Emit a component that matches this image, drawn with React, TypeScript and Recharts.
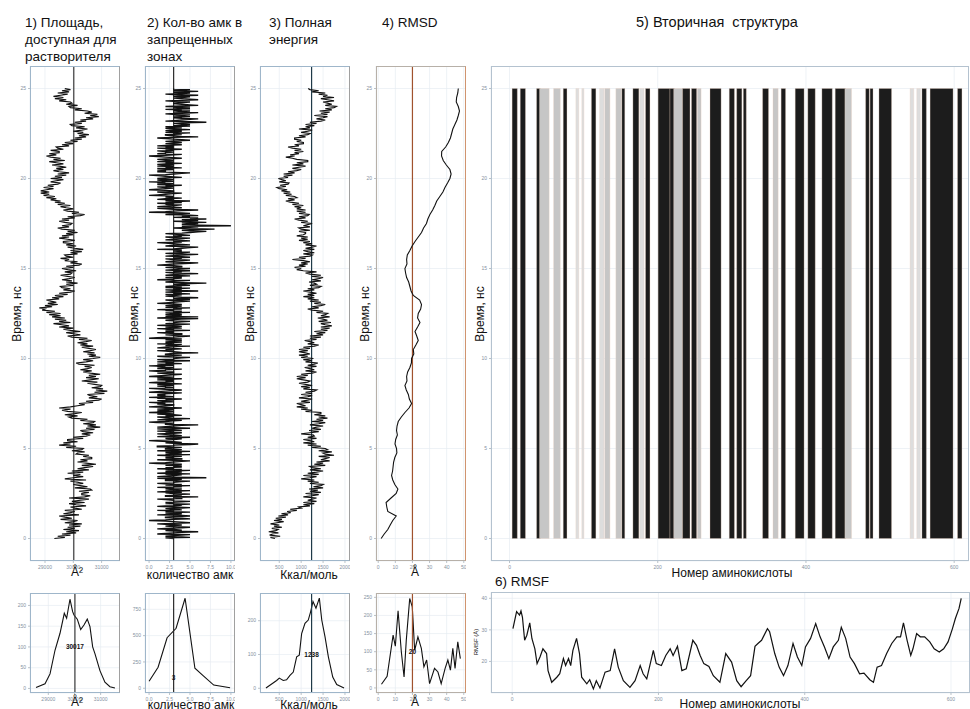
import React from 'react';
import {
  ScatterChart,
  Scatter,
  LineChart,
  Line,
  XAxis,
  YAxis,
  CartesianGrid,
  ReferenceLine,
  ReferenceArea,
  ReferenceDot,
} from 'recharts';

// #region data
// time step of the trajectories, ns
const sasaStep = 0.0625;
const sasa = [
  29330, 29700, 29450, 29900, 29600, 30100, 29750, 30200, 29650, 30050, 29800, 30250, 29850, 30300, 29700, 30000,
  30150, 29550, 29950, 29700, 29500, 30200, 29650, 29900, 30050, 29700, 30300, 30050, 29900, 30450, 30100, 29850,
  30400, 29950, 30250, 30550, 29850, 30400, 30600, 30300, 30300, 30550, 30200, 30650, 30600, 30050, 30500, 30250,
  30000, 30350, 30150, 29900, 30450, 29700, 30000, 30350, 30000, 30250, 29800, 30350, 29950, 30550, 30150, 30400,
  30700, 30300, 30800, 30450, 30150, 30500, 30250, 30650, 30650, 30350, 30550, 30100, 30150, 30400, 29950, 30300,
  30350, 29750, 30100, 29500, 29900, 29650, 30150, 29800, 29800, 30350, 30000, 30450, 30600, 30300, 30700, 30350,
  30250, 30750, 30450, 30950, 30500, 30800, 30350, 30700, 30750, 30250, 30500, 29950, 29850, 30150, 29700, 30050,
  30300, 29800, 29600, 29900, 29500, 29900, 30150, 30400, 30200, 30700, 30450, 30900, 31000, 30550, 30850, 30600,
  30500, 31100, 30750, 31200, 30800, 31050, 30650, 30950, 31000, 30750, 30500, 30850, 30300, 30600, 30900, 30450,
  30800, 30550, 30950, 30600, 30350, 30650, 30250, 30500, 30650, 30400, 30750, 30200, 30100, 30450, 30700, 30350,
  30700, 30950, 30550, 30800, 30500, 30750, 30350, 30600, 30800, 30550, 30300, 30700, 30250, 30500, 30150, 30450,
  30650, 30200, 30500, 29950, 29800, 30250, 30000, 29750, 30250, 29900, 29650, 30000, 29500, 29850, 29600, 29300,
  29900, 29500, 29750, 29350, 29700, 29250, 29550, 29150, 29550, 29050, 29350, 28900, 29000, 28800, 29250, 29000,
  29450, 29100, 29400, 29200, 29050, 29500, 29250, 29650, 29350, 29800, 29500, 29900, 30050, 29650, 29900, 29600,
  29550, 30000, 29750, 30150, 29750, 29950, 29600, 29850, 30050, 29800, 29550, 29900, 29950, 29700, 30100, 29800,
  29600, 30000, 29750, 30200, 30300, 29900, 30150, 29700, 29850, 29550, 30000, 29750, 29700, 30150, 29900, 30300,
  29900, 30350, 30050, 29800, 30100, 29750, 30000, 29650, 29650, 30050, 29800, 29500, 29850, 29600, 30000, 29750,
  30150, 29800, 30050, 29600, 29450, 29850, 29600, 29900, 29950, 29700, 29500, 29850, 29600, 30050, 29800, 30250,
  30400, 29950, 30200, 29800, 29650, 30000, 29750, 29550, 29900, 29450, 29700, 29350, 29550, 29200, 29400, 29050,
  29350, 28950, 29150, 28850, 29150, 28850, 29050, 29300, 28950, 29300, 29100, 29450, 29550, 29200, 29400, 29650,
  29200, 29600, 29350, 29750, 29450, 29850, 29500, 29300, 29650, 29400, 29750, 29500, 29250, 29650, 29400, 29150,
  29700, 29300, 29550, 29200, 29050, 29400, 29150, 29500, 29500, 29200, 29650, 29450, 29400, 29850, 29600, 30000,
  29700, 30150, 29900, 30300, 30050, 30450, 30200, 30550, 30150, 30350, 30000, 30300, 30500, 30100, 30400, 29950,
  29900, 30300, 30050, 30450, 30250, 30700, 30450, 30900, 30600, 30850, 30400, 30650, 30500, 30050, 30300, 29900,
  29850, 30150, 29750, 29950, 29900, 29500, 29750, 29350, 29650, 29300, 29550, 29800, 29450, 29850, 29600, 29900,
  29700,
];

const amkStep = 0.03125;
const amk = [
  3, 2, 5, 4, 2, 3, 4, 5, 1, 2, 3, 4, 6, 3, 2, 4, 3, 1, 2, 4, 5, 3, 2, 3, 4, 2, 1, 3, 5, 4, 3, 2,
  0, 2, 3, 5, 4, 2, 2, 3, 5, 4, 1, 3, 4, 2, 3, 5, 2, 3, 1, 4, 3, 2, 4, 5, 3, 1, 2, 4, 3, 5, 2, 3,
  2, 4, 5, 3, 3, 2, 1, 4, 4, 3, 6, 2, 2, 4, 3, 5, 3, 2, 4, 1, 3, 5, 2, 3, 4, 2, 3, 1, 4, 3, 5, 2,
  4, 2, 1, 3, 3, 4, 5, 2, 2, 4, 3, 1, 7, 3, 1, 2, 3, 4, 2, 5, 1, 3, 4, 2, 3, 5, 2, 4, 1, 3, 2, 4,
  3, 4, 2, 3, 4, 1, 0, 2, 3, 4, 5, 3, 1, 4, 4, 2, 3, 2, 4, 3, 1, 5, 2, 3, 4, 2, 3, 5, 1, 3, 4, 2,
  2, 3, 4, 1, 1, 3, 3, 5, 6, 3, 2, 4, 3, 1, 0, 2, 3, 4, 2, 3, 5, 1, 2, 4, 3, 2, 1, 3, 4, 2, 3, 1,
  4, 3, 2, 1, 5, 3, 1, 2, 3, 4, 6, 2, 2, 3, 1, 0, 2, 3, 4, 1, 2, 5, 3, 2, 1, 3, 2, 4, 3, 1, 2, 3,
  0, 2, 3, 1, 2, 3, 1, 2, 4, 2, 0, 1, 2, 3, 3, 1, 2, 1, 0, 3, 2, 1, 3, 2, 4, 1, 2, 0, 3, 2, 1, 2,
  1, 2, 3, 4, 0, 1, 2, 3, 4, 2, 1, 0, 3, 2, 2, 1, 3, 2, 1, 4, 2, 0, 1, 3, 2, 3, 1, 2, 4, 1, 2, 3,
  0, 1, 2, 3, 4, 2, 1, 3, 3, 1, 0, 2, 2, 4, 1, 2, 3, 1, 2, 0, 3, 2, 1, 4, 2, 3, 1, 2, 5, 2, 1, 3,
  3, 4, 5, 2, 1, 3, 4, 2, 2, 3, 6, 4, 3, 2, 1, 3, 2, 4, 3, 1, 2, 3, 5, 2, 3, 4, 1, 3, 2, 4, 3, 2,
  4, 3, 2, 4, 0, 1, 3, 4, 5, 3, 2, 4, 4, 2, 1, 3, 2, 3, 5, 2, 3, 1, 4, 3, 2, 4, 3, 1, 3, 5, 2, 3,
  3, 4, 5, 3, 2, 3, 4, 6, 1, 3, 6, 2, 3, 4, 2, 4, 3, 2, 5, 3, 4, 2, 3, 1, 4, 3, 5, 2, 3, 4, 2, 3,
  4, 3, 1, 2, 3, 4, 5, 3, 2, 5, 4, 3, 6, 4, 3, 2, 3, 4, 2, 5, 3, 4, 2, 3, 6, 3, 2, 4, 3, 5, 2, 4,
  2, 3, 5, 4, 3, 5, 7, 4, 2, 3, 4, 5, 1, 3, 3, 4, 2, 4, 3, 5, 2, 3, 4, 6, 3, 2, 4, 3, 5, 2, 3, 4,
  5, 3, 2, 4, 4, 3, 1, 2, 3, 5, 6, 4, 2, 3, 4, 5, 3, 2, 4, 3, 5, 4, 2, 3, 4, 6, 3, 2, 4, 5, 3, 4,
  3, 4, 1, 3, 4, 5, 6, 4, 2, 3, 5, 4, 3, 2, 1, 4, 3, 5, 4, 2, 3, 4, 5, 3, 2, 4, 3, 5, 4, 3, 2, 4,
  5, 6, 7, 5, 4, 6, 8, 5, 3, 5, 6, 4, 10, 6, 4, 5, 6, 4, 7, 5, 3, 6, 5, 4, 7, 5, 6, 3, 5, 4, 6, 5,
  2, 3, 5, 4, 0, 2, 3, 4, 6, 3, 2, 1, 4, 3, 1, 2, 3, 4, 2, 3, 1, 4, 2, 3, 5, 2, 3, 1, 2, 4, 3, 2,
  3, 2, 0, 1, 2, 3, 4, 2, 1, 3, 3, 2, 0, 1, 2, 3, 2, 1, 3, 2, 4, 1, 2, 3, 1, 2, 0, 3, 2, 1, 3, 2,
  1, 2, 4, 3, 2, 1, 0, 2, 3, 4, 5, 3, 1, 2, 2, 1, 3, 2, 1, 4, 2, 3, 1, 2, 3, 1, 2, 4, 2, 3, 1, 2,
  3, 2, 1, 2, 4, 3, 2, 1, 0, 2, 3, 4, 1, 2, 2, 3, 2, 1, 3, 2, 4, 2, 1, 3, 2, 3, 1, 2, 4, 3, 2, 3,
  4, 3, 2, 3, 5, 4, 3, 2, 1, 3, 6, 4, 3, 2, 2, 4, 3, 5, 2, 3, 4, 2, 3, 5, 3, 2, 4, 3, 2, 5, 3, 4,
  5, 4, 3, 4, 7, 5, 2, 3, 4, 5, 6, 4, 3, 4, 5, 3, 4, 5, 3, 2, 4, 6, 3, 4, 5, 3, 4, 2, 5, 4, 3, 5,
  2, 4, 6, 5, 4, 3, 3, 4, 5, 3, 2, 4, 6, 5, 4, 3, 4, 5, 3, 4, 6, 3, 2, 4, 5, 3, 4, 6, 3, 4, 5, 3,
  3,
];

const energyStep = 0.0625;
const energy = [
  400, 300, 520, 280, 350, 480, 260, 420, 470, 330, 560, 380, 500, 300, 450, 600,
  380, 560, 420, 650, 480, 700, 550, 760, 680, 900, 750, 1000, 950, 1200, 1050, 1300,
  1050, 1350, 1150, 1250, 1350, 1050, 1250, 1400, 1100, 1450, 1200, 1380, 1180, 1500, 1280, 1450,
  1500, 1200, 1400, 1150, 1300, 1000, 1200, 1350, 1050, 1400, 1150, 1350, 1500, 1200, 1450, 1250,
  1200, 1550, 1300, 1500, 1350, 1650, 1450, 1550, 1650, 1400, 1750, 1550, 1500, 1700, 1400, 1600,
  1550, 1250, 1450, 1150, 1350, 1050, 1300, 1200, 1050, 1350, 1150, 1300, 1280, 1000, 1200, 1400,
  1180, 1450, 1250, 1350, 1500, 1200, 1400, 1550, 1250, 1500, 1350, 1600, 1400, 1550, 1300, 1450,
  1450, 1100, 1250, 1000, 1150, 900, 1100, 1000, 900, 1200, 1000, 1150, 1250, 950, 1150, 1250,
  1000, 1250, 1100, 1300, 1350, 1050, 1200, 1000, 1250, 1100, 950, 1150, 1200, 1050, 900, 1100,
  900, 1150, 1000, 1250, 1350, 1100, 1300, 1200, 1080, 1350, 1150, 1300, 1380, 1100, 1250, 1050,
  1280, 1000, 1150, 950, 1200, 1100, 950, 1150, 950, 1200, 1050, 1300, 1400, 1150, 1300, 1200,
  1080, 1350, 1200, 1450, 1200, 1500, 1350, 1550, 1300, 1600, 1450, 1650, 1450, 1700, 1550, 1450,
  1680, 1400, 1600, 1500, 1380, 1650, 1450, 1550, 1600, 1350, 1500, 1250, 1150, 1400, 1250, 1450,
  1550, 1300, 1450, 1200, 1400, 1150, 1300, 1050, 1300, 1150, 1350, 1200, 1050, 1300, 1150, 1400,
  1450, 1200, 1350, 1300, 1180, 1450, 1250, 1400, 1500, 1250, 1450, 1200, 1100, 1350, 1050, 900,
  1000, 850, 1100, 950, 1150, 1000, 1200, 1050, 800, 1100, 950, 1200, 1250, 1050, 1300, 1150,
  1050, 1300, 1100, 1250, 1350, 1100, 1250, 1050, 1200, 950, 1150, 1000, 1150, 900, 1050, 1100,
  1100, 950, 1200, 1000, 950, 1200, 1050, 1150, 1250, 1000, 1150, 950, 850, 1100, 950, 1150,
  1180, 950, 1100, 900, 1100, 900, 1000, 850, 1050, 800, 950, 750, 650, 850, 700, 900,
  850, 650, 780, 600, 750, 550, 680, 500, 450, 650, 520, 700, 720, 500, 650, 560,
  480, 700, 600, 800, 600, 850, 700, 900, 1000, 800, 950, 1100, 800, 1050, 900, 1150,
  1150, 900, 800, 650, 850, 750, 950, 850, 1050, 850, 1000, 800, 700, 950, 850, 1050,
  1050, 900, 1000, 850, 850, 1100, 950, 1150, 1200, 1000, 1150, 1250, 950, 1200, 1100, 1300,
  1100, 1350, 1200, 1450, 1550, 1350, 1500, 1600, 1300, 1600, 1450, 1650, 1420, 1700, 1550, 1750,
  1800, 1550, 1700, 1600, 1500, 1750, 1600, 1450, 1750, 1500, 1600, 1400, 1550, 1250, 1400, 1200,
  1160,
];

const rmsdStep = 0.25;
const rmsd = [
  1.7, 3.5, 5.6, 7.0, 8.5, 10.5, 5.6, 5.0, 4.6, 7.5,
  10.5, 11.5, 9.7, 8.5, 7.8, 8.4, 8.7, 9.0, 9.7, 10.9,
  10.7, 9.8, 10.2, 11.2, 10.7, 11.0, 11.7, 13.5, 15.6, 18.0,
  19.5, 18.2, 17.6, 16.4, 15.6, 16.8, 16.6, 17.2, 18.5, 19.4,
  19.5, 20.8, 20.5, 22.0, 23.4, 22.5, 21.5, 23.0, 24.4, 23.0,
  23.4, 24.8, 25.3, 24.2, 20.5, 19.2, 18.5, 17.8, 16.6, 16.0,
  15.6, 16.8, 16.6, 17.0, 18.5, 19.8, 21.5, 23.4, 25.3, 26.5,
  28.2, 29.0, 30.2, 31.8, 33.1, 34.2, 36.0, 37.8, 39.0, 40.5,
  41.9, 42.6, 41.9, 39.8, 38.0, 37.0, 37.1, 39.4, 41.0, 42.2,
  42.9, 43.6, 44.8, 46.0, 46.8, 47.5, 46.8, 45.6, 45.8, 46.5,
  46.8,
];

const means = [30017, 3, 1238, 20];

// frequency polygons
const h1X = [28530, 28874, 29065, 29256, 29447, 29611, 29700, 29828, 29930, 29981, 30107, 30237, 30363, 30489, 30592, 30695, 30782, 30973, 31164, 31355, 31546];
const h1Y = [2, 11, 35, 92, 133, 181, 169, 215, 185, 177, 167, 142, 153, 167, 149, 100, 84, 43, 15, 4, 1];
const h2X = [0, 1.1, 2.2, 3.3, 4.4, 5.6, 6.6, 7.9, 9.9];
const h2Y = [67, 200, 480, 570, 855, 190, 120, 30, 5];
const h3X = [196, 440, 500, 591, 667, 744, 820, 897, 957, 1011, 1087, 1162, 1217, 1270, 1338, 1415, 1470, 1545, 1621, 1721, 1812, 1979];
const h3Y = [1, 23, 30, 23, 25, 38, 48, 93, 98, 162, 192, 202, 227, 257, 237, 267, 202, 152, 93, 33, 11, 1];
const h4X = [1.9, 5.2, 8.7, 10, 11.6, 13.5, 15.1, 16.4, 18.4, 19.9, 21.3, 23.2, 25.2, 26.7, 28.3, 30, 32.9, 34.9, 36.8, 39.1, 40.7, 42.2, 43.6, 44.9, 46.5, 48];
const h4Y = [10, 32, 146, 115, 213, 100, 30, 132, 247, 224, 104, 141, 109, 58, 77, 12, 54, 44, 12, 54, 77, 49, 109, 54, 127, 81];

// secondary structure, residue ranges
const ssStart = [4, 15, 37, 41, 60, 73, 90, 98, 111, 122, 129, 144, 152, 167, 176, 184, 201, 217, 222, 234, 246, 254, 271, 297, 307, 316, 342, 356, 367, 386, 403, 422, 440, 453, 481, 487, 499, 541, 550, 557, 568, 605];
const ssEnd = [10, 21, 41, 53, 68, 77, 93, 100, 116, 127, 135, 150, 155, 174, 181, 189, 216, 222, 233, 243, 252, 258, 285, 303, 313, 319, 349, 362, 372, 397, 412, 435, 453, 461, 485, 490, 515, 545, 554, 562, 598, 610];
const ssType = ['H', 'H', 'H', 'G', 'G', 'H', 'L', 'L', 'H', 'L', 'G', 'G', 'H', 'H', 'L', 'H', 'H', 'H', 'G', 'H', 'H', 'G', 'H', 'H', 'H', 'H', 'H', 'G', 'H', 'H', 'H', 'H', 'H', 'G', 'H', 'H', 'H', 'L', 'L', 'H', 'H', 'H'];
const ssColors: Record<string, string> = { H: '#1c1c1c', G: '#c6c6c6', L: '#dddddd' };

// RMSF per residue
const rmsfRes = [1, 6, 10, 12, 14, 17, 20, 24, 27, 31, 34, 38, 42, 47, 49, 54, 61, 65, 70, 73, 77, 80, 83, 88, 92, 95, 102, 106, 111, 115, 120, 127, 134, 140, 145, 152, 161, 168, 175, 179, 184, 193, 197, 204, 210, 216, 220, 226, 232, 238, 247, 252, 257, 262, 269, 275, 284, 292, 300, 307, 313, 320, 326, 332, 336, 341, 349, 352, 359, 365, 371, 377, 384, 390, 396, 401, 408, 415, 421, 427, 433, 439, 446, 450, 456, 462, 468, 475, 481, 489, 494, 499, 505, 512, 519, 526, 531, 535, 540, 545, 548, 553, 558, 564, 571, 577, 584, 590, 596, 602, 606, 611, 614];
const rmsfVal = [30.4, 35.8, 34.7, 36, 34, 26.7, 28.3, 32.2, 27.2, 24, 19.3, 21.4, 24, 22.5, 17.1, 13.4, 15, 16.1, 20.9, 18.7, 20.9, 18.7, 23.5, 27.3, 22.5, 15, 12.9, 14.2, 11.3, 13.9, 11.6, 16.6, 17.1, 24, 18.2, 13.9, 11.8, 13.9, 18.7, 16.1, 14.5, 23.5, 19.3, 18.7, 21.9, 24, 21.9, 24.8, 17.1, 17.7, 26.7, 25.1, 21.9, 19.3, 18.4, 15.5, 13.4, 22.5, 19.8, 13.9, 12, 13.9, 15.5, 24.8, 25.7, 26.7, 30.4, 29.4, 22.5, 18.2, 15.5, 18.7, 25.7, 21.4, 18.7, 24.6, 27.3, 32, 27.8, 24.6, 20.9, 24.6, 26.7, 30.8, 27.3, 21.4, 19.3, 16.1, 16.3, 14.2, 13.4, 18.2, 18.7, 22.5, 25.7, 27.8, 27.8, 32.2, 26.7, 21.9, 24, 28.8, 27.8, 27.8, 26.2, 24, 23, 24, 26.2, 30.4, 33.6, 36.8, 40];

const timeTicks = [0, 5, 10, 15, 20, 25];
// #endregion

const FONT = '"Liberation Sans", Arial, Helvetica, sans-serif';
const tick = { fontSize: 5, fill: '#85929f', fontFamily: FONT };
const tickLine = { stroke: '#8f9aa5', strokeWidth: 0.6 };
const GRID = '#e6ecf2';
const YW = 24;
const XH = 10;
const TOP_Y = 66;
const TOP_H = 495;
const HIST_Y = 593;
const HIST_H = 100;
const PW = 90;
const T_DOMAIN: [number, number] = [-1.25, 26.25];

const series = (vals: number[], step: number) => vals.map((v, i) => ({ x: v, y: i * step }));
const pairs = (xs: number[], ys: number[]) => xs.map((x, i) => ({ x, y: ys[i] }));

const Frame = ({ left, top, w, h, color, side }: any) => (
  <div
    style={{
      position: 'absolute',
      left,
      top,
      width: w,
      height: h,
      border: `1px solid ${color}`,
      borderRightColor: side || color,
      boxSizing: 'border-box',
      pointerEvents: 'none',
    }}
  />
);

const Txt = ({ left, top, size = 12, children, center = false, rotate = false, lh = 17 }: any) => (
  <div
    style={{
      position: 'absolute',
      left,
      top,
      fontFamily: FONT,
      fontSize: size,
      lineHeight: `${lh}px`,
      color: '#111',
      whiteSpace: 'pre',
      transform: rotate ? 'translate(-50%, -50%) rotate(-90deg)' : center ? 'translateX(-50%)' : undefined,
    }}
  >
    {children}
  </div>
);

const TracePanel = ({ left, pts, xDomain, xTicks, xFmt, mean, meanColor, border, side, sw = 1 }: any) => (
  <>
    <div style={{ position: 'absolute', left: left - YW, top: TOP_Y }}>
      <ScatterChart width={PW + YW} height={TOP_H + XH} margin={{ top: 0, right: 0, bottom: 0, left: 0 }}>
        <CartesianGrid stroke={GRID} strokeWidth={0.7} />
        <XAxis type="number" dataKey="x" domain={xDomain} ticks={xTicks} tickFormatter={xFmt} interval={0}
          height={XH} tick={tick} tickLine={tickLine} tickSize={2} axisLine={false} allowDataOverflow />
        <YAxis type="number" dataKey="y" domain={T_DOMAIN} ticks={timeTicks} interval={0}
          width={YW} tick={tick} tickLine={tickLine} tickSize={2} axisLine={false} allowDataOverflow />
        <Scatter data={pts} line={{ stroke: '#111', strokeWidth: sw }} shape={() => <g />} isAnimationActive={false} />
        <ReferenceLine x={mean} stroke={meanColor} strokeWidth={1.2} />
      </ScatterChart>
    </div>
    <Frame left={left} top={TOP_Y} w={PW} h={TOP_H} color={border} side={side} />
  </>
);

const HistPanel = ({ left, pts, xDomain, xTicks, xFmt, yDomain, yTicks, mean, meanColor, label, labelY, border, side }: any) => (
  <>
    <div style={{ position: 'absolute', left: left - YW, top: HIST_Y }}>
      <LineChart width={PW + YW} height={HIST_H + XH} data={pts} margin={{ top: 0, right: 0, bottom: 0, left: 0 }}>
        <CartesianGrid stroke={GRID} strokeWidth={0.7} />
        <XAxis type="number" dataKey="x" domain={xDomain} ticks={xTicks} tickFormatter={xFmt} interval={0}
          height={XH} tick={tick} tickLine={tickLine} tickSize={2} axisLine={false} allowDataOverflow />
        <YAxis type="number" domain={yDomain} ticks={yTicks} interval={0}
          width={YW} tick={tick} tickLine={tickLine} tickSize={2} axisLine={false} allowDataOverflow />
        <Line type="linear" dataKey="y" stroke="#111" strokeWidth={1.1} dot={false} isAnimationActive={false} />
        <ReferenceLine x={mean} stroke={meanColor} strokeWidth={1.2} />
        <ReferenceDot x={mean} y={labelY} r={4} fill="none" stroke="none"
          label={{ value: label, position: 'center', fontSize: 6.5, fontWeight: 700, fill: '#111', fontFamily: FONT }} />
      </LineChart>
    </div>
    <Frame left={left} top={HIST_Y} w={PW} h={HIST_H} color={border} side={side} />
  </>
);

const fmtDec = (v: number) => v.toFixed(1);

export default function App() {
  const ss = ssStart.map((s, i) => ({ s, e: ssEnd[i], c: ssColors[ssType[i]] }));
  const rmsf = pairs(rmsfRes, rmsfVal);
  return (
    <div style={{ position: 'fixed', left: 0, top: 0, width: 970, height: 709, background: '#fff', overflow: 'hidden' }}>
      {/* panel titles */}
      <Txt left={25} top={14} size={13.5}>{'1) Площадь,\nдоступная для\nрастворителя'}</Txt>
      <Txt left={147} top={14} size={13.5}>{'2) Кол-во амк в\nзапрещенных\nзонах'}</Txt>
      <Txt left={269} top={14} size={13.5}>{'3) Полная\nэнергия'}</Txt>
      <Txt left={382} top={14} size={13.5}>{'4) RMSD'}</Txt>
      <Txt left={636} top={14} size={14.5}>{'5) Вторичная  структура'}</Txt>
      <Txt left={495} top={573} size={13.5}>{'6) RMSF'}</Txt>

      {/* time axis titles */}
      {[17, 134, 250, 365, 480].map((x) => (
        <Txt key={x} left={x} top={314} rotate>Время, нс</Txt>
      ))}

      <TracePanel left={30} pts={series(sasa, sasaStep)} xDomain={[28470, 31650]} xTicks={[29000, 30000, 31000]}
        mean={means[0]} meanColor="#3a3a3a" border="#9fb6ca" side="#a0a0a0" sw={1.25} />
      <TracePanel left={145} pts={series(amk, amkStep)} xDomain={[-0.5, 10.5]} xTicks={[0, 2.5, 5, 7.5, 10]} xFmt={fmtDec}
        mean={means[1]} meanColor="#2a2a2a" border="#9fb6ca" side="#a0a0a0" sw={1.3} />
      <TracePanel left={260} pts={series(energy, energyStep)} xDomain={[60, 2115]} xTicks={[500, 1000, 1500, 2000]}
        mean={means[2]} meanColor="#1f3a48" border="#9fb6ca" side="#a0a0a0" sw={1.25} />
      <TracePanel left={376} pts={series(rmsd, rmsdStep)} xDomain={[-1.3, 51.3]} xTicks={[0, 10, 20, 30, 40, 50]}
        mean={means[3]} meanColor="#a0522d" border="#b7b0a8" side="#d0946f" sw={1.1} />

      <Txt left={77} top={564} center>Å²</Txt>
      <Txt left={190} top={567} center>количество амк</Txt>
      <Txt left={309} top={567} center>Ккал/моль</Txt>
      <Txt left={415} top={564} center>Å</Txt>

      <HistPanel left={30} pts={pairs(h1X, h1Y)} xDomain={[28300, 31740]} xTicks={[29000, 30000, 31000]}
        yDomain={[-11, 230]} yTicks={[0, 50, 100, 150, 200]} mean={means[0]} meanColor="#3a3a3a"
        label="30017" labelY={100} border="#9fb6ca" side="#a0a0a0" />
      <HistPanel left={145} pts={pairs(h2X, h2Y)} xDomain={[-0.5, 10.5]} xTicks={[0, 2.5, 5, 7.5, 10]} xFmt={fmtDec}
        yDomain={[-45, 905]} yTicks={[0, 250, 500, 750]} mean={means[1]} meanColor="#2a2a2a"
        label="3" labelY={105} border="#9fb6ca" side="#a0a0a0" />
      <HistPanel left={260} pts={pairs(h3X, h3Y)} xDomain={[60, 2115]} xTicks={[500, 1000, 1500, 2000]}
        yDomain={[-14, 282]} yTicks={[0, 100, 200]} mean={means[2]} meanColor="#1f3a48"
        label="1238" labelY={100} border="#9fb6ca" side="#a0a0a0" />
      <HistPanel left={376} pts={pairs(h4X, h4Y)} xDomain={[-1.3, 51.3]} xTicks={[0, 10, 20, 30, 40, 50]}
        yDomain={[-14, 262]} yTicks={[0, 50, 100, 150, 200, 250]} mean={means[3]} meanColor="#a0522d"
        label="20" labelY={100} border="#b7b0a8" side="#d0946f" />

      <Txt left={77} top={695} center lh={14}>Å²</Txt>
      <Txt left={191} top={698} center lh={14}>количество амк</Txt>
      <Txt left={309} top={698} center lh={14}>Ккал/моль</Txt>
      <Txt left={415} top={695} center lh={14}>Å</Txt>

      {/* secondary structure */}
      <div style={{ position: 'absolute', left: 491 - YW, top: TOP_Y }}>
        <ScatterChart width={478 + YW} height={TOP_H + XH} margin={{ top: 0, right: 0, bottom: 0, left: 0 }}>
          <CartesianGrid stroke={GRID} strokeWidth={0.7} />
          <XAxis type="number" dataKey="x" domain={[-25, 620]} ticks={[0, 200, 400, 600]} interval={0}
            height={XH} tick={tick} tickLine={tickLine} tickSize={2} axisLine={false} allowDataOverflow />
          <YAxis type="number" dataKey="y" domain={T_DOMAIN} ticks={timeTicks} interval={0}
            width={YW} tick={tick} tickLine={tickLine} tickSize={2} axisLine={false} allowDataOverflow />
          {ss.map((b, i) => (
            <ReferenceArea key={i} x1={b.s - 0.5} x2={b.e + 0.5} y1={0} y2={25} fill={b.c} fillOpacity={1}
              stroke="#efcfc0" strokeWidth={0.3} ifOverflow="visible" />
          ))}
          <Scatter data={[{ x: 0, y: 0 }]} shape={() => <g />} isAnimationActive={false} />
        </ScatterChart>
      </div>
      <Frame left={491} top={TOP_Y} w={478} h={TOP_H} color="#b4c2cf" />
      <Txt left={732} top={566} center lh={14}>Номер аминокислоты</Txt>

      {/* RMSF */}
      <div style={{ position: 'absolute', left: 491 - YW, top: 592 }}>
        <LineChart width={479 + YW} height={101 + XH} data={rmsf} margin={{ top: 0, right: 0, bottom: 0, left: 0 }}>
          <CartesianGrid stroke={GRID} strokeWidth={0.7} />
          <XAxis type="number" dataKey="x" domain={[-29, 626]} ticks={[0, 200, 400, 600]} interval={0}
            height={XH} tick={tick} tickLine={tickLine} tickSize={2} axisLine={false} allowDataOverflow />
          <YAxis type="number" domain={[10, 42]} ticks={[20, 30, 40]} interval={0}
            width={YW} tick={tick} tickLine={tickLine} tickSize={2} axisLine={false} allowDataOverflow />
          <Line type="linear" dataKey="y" stroke="#111" strokeWidth={1.2} dot={false} isAnimationActive={false} />
        </LineChart>
      </div>
      <Frame left={491} top={592} w={479} h={101} color="#b4c2cf" />
      <Txt left={476} top={642} size={6} rotate>RMSF (Å)</Txt>
      <Txt left={740} top={697} center lh={14}>Номер аминокислоты</Txt>
    </div>
  );
}
